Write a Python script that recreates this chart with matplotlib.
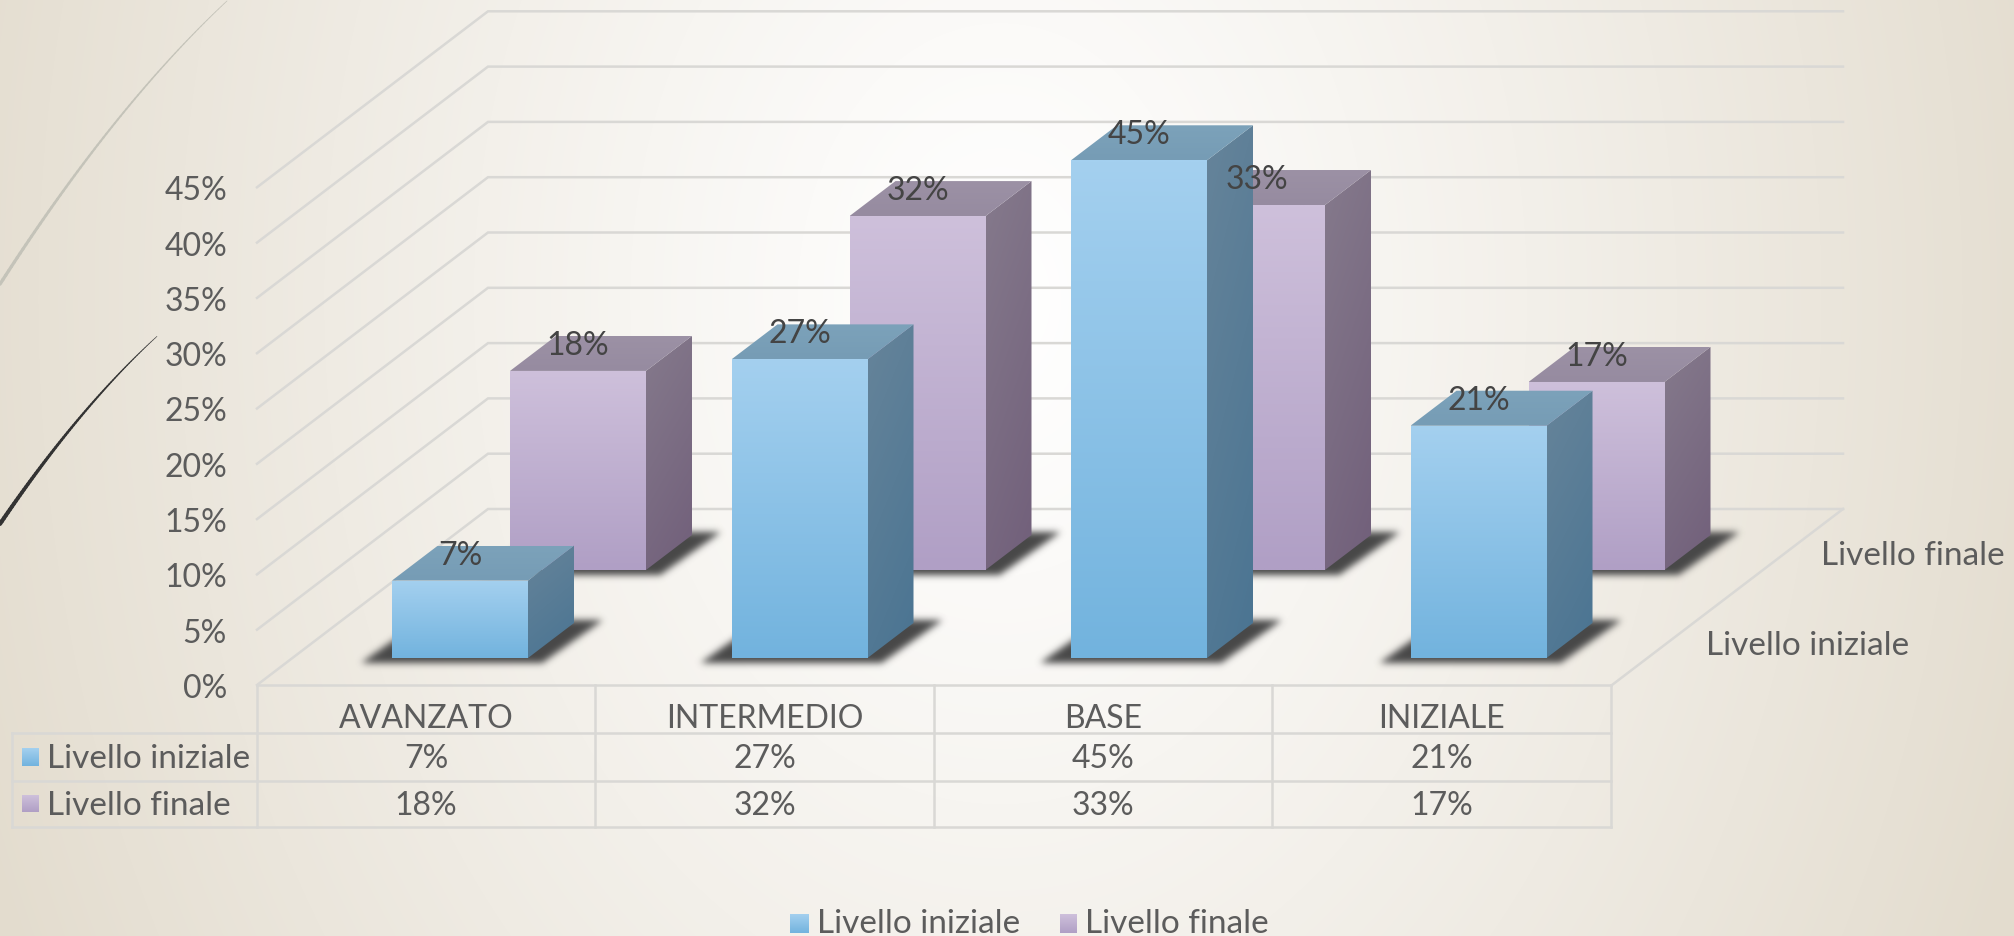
"""3D-look clustered bars (Livello iniziale / finale) with data table, drawn on a pixel canvas."""
import matplotlib
matplotlib.use('Agg')
import matplotlib.pyplot as plt
from matplotlib.collections import LineCollection
from matplotlib.patches import Polygon
from matplotlib.path import Path
import numpy as np

# ----- data -----
CATEGORIES = ['AVANZATO', 'INTERMEDIO', 'BASE', 'INIZIALE']
SERIES = ['Livello iniziale', 'Livello finale']
INIZIALE = [7, 27, 45, 21]
FINALE = [18, 32, 33, 17]
Y_TICKS = [0, 5, 10, 15, 20, 25, 30, 35, 40, 45]

# ----- colours -----
TEXT = '#5C5C5C'
LABEL = '#444444'
GRID = '#D9D8D5'
BLUE = {'front': ('#A4D0EF', '#72B3DE'), 'side': ('#66849A', '#4A7492'), 'top': ('#7CA2BA', '#769CB5')}
PURPLE = {'front': ('#CEC0DB', '#B09FC5'), 'side': ('#857A8C', '#715F7A'), 'top': ('#9C91A5', '#968BA0')}

# ----- geometry, in image pixels -----
W, H = 2014, 937
PX_PER_PCT = 11.06
X0, Y0 = 257, 686            # front left corner of the floor
X1 = 1612                    # front right corner of the floor
DX, DY = 231, -176           # floor depth
BAR_W = 136
BAR_DX, BAR_DY = 46, -35     # depth of one bar
STEP = 339.5
FRONT_X, FRONT_Y = 392, 659
REAR_X, REAR_Y = 510, 571
TABLE_X = [257, 595, 934, 1272, 1611]
TABLE_Y = [686, 734, 782, 828]

plt.rcParams['font.family'] = ['Lato', 'DejaVu Sans']
FS = 23      # numbers
FS_WORD = 24 # words

fig = plt.figure(figsize=(W / 100, H / 100), dpi=100)
ax = fig.add_axes([0, 0, 1, 1])
ax.axis('off')

zorder = [1]


def next_z():
    zorder[0] += 1
    return zorder[0]


def rgb(c):
    return np.array(matplotlib.colors.to_rgb(c))


def txt(x, y, s, size=FS, ha='center', color=TEXT):
    ax.text(x, y + 3, s, ha=ha, va='center', fontsize=size, color=color, zorder=500)


def grad_poly(pts, colors, diag=0.0):
    """Polygon with a top-to-bottom gradient (diag mixes in a left-to-right part)."""
    pts = np.array(pts, dtype=float)
    x0, x1 = pts[:, 0].min(), pts[:, 0].max()
    y0, y1 = pts[:, 1].min(), pts[:, 1].max()
    u, v = np.meshgrid(np.linspace(0, 1, 40), np.linspace(0, 1, 120))
    t = ((1 - diag) * v + diag * u)[..., None]
    img = rgb(colors[0]) * (1 - t) + rgb(colors[1]) * t
    im = ax.imshow(img, extent=[x0, x1, y1, y0], aspect='auto', zorder=next_z(),
                   interpolation='bilinear')
    im.set_clip_path(Polygon(pts, closed=True, transform=ax.transData))


def draw_shadow(x, yb):
    """Skewed footprint, blurred on a small local raster."""
    xr = x + BAR_W
    pts = [(x - 31, yb + 5), (xr + 14, yb + 5), (xr + 75, yb - 38), (x + 30, yb - 38)]
    px0, py0 = int(x - 55), int(yb - 60)
    nx, ny = BAR_W + 165, 90
    yy, xx = np.mgrid[py0:py0 + ny, px0:px0 + nx]
    inside = Path(pts).contains_points(np.column_stack([xx.ravel() + 0.5, yy.ravel() + 0.5]))
    mask = inside.reshape(ny, nx).astype(float)
    k = np.exp(-0.5 * (np.arange(-11, 12) / 3.5) ** 2)
    k /= k.sum()
    mask = np.apply_along_axis(lambda r: np.convolve(r, k, mode='same'), 0, mask)
    mask = np.apply_along_axis(lambda r: np.convolve(r, k, mode='same'), 1, mask)
    img = np.zeros((ny, nx, 4))
    img[..., :3] = rgb('#484848')
    img[..., 3] = mask
    ax.imshow(img, extent=[px0, px0 + nx, py0 + ny, py0], aspect='auto', zorder=next_z())


def draw_bar(x, yb, value, col):
    top = yb - value * PX_PER_PCT
    xr = x + BAR_W
    grad_poly([(xr, top), (xr + BAR_DX, top + BAR_DY), (xr + BAR_DX, yb + BAR_DY), (xr, yb)],
              col['side'], diag=0.25)
    grad_poly([(x, top), (xr, top), (xr + BAR_DX, top + BAR_DY), (x + BAR_DX, top + BAR_DY)],
              col['top'])
    grad_poly([(x, top), (xr, top), (xr, yb), (x, yb)], col['front'])


def bar_label(x, yb, value):
    txt(x + BAR_W / 2, yb - value * PX_PER_PCT - 29, f'{value}%', color=LABEL)


# ----- background: soft radial light -----
yy, xx = np.mgrid[0:H, 0:W]
d = np.sqrt(((xx - 1000) / 1100.0) ** 2 + ((yy - 300) / 1500.0) ** 2)
t = np.clip(d, 0, 1)[..., None] ** 1.15
bg = rgb('#FFFFFF') * (1 - t) + rgb('#E3DCCE') * t
ax.imshow(bg, extent=[0, W, H, 0], aspect='auto', zorder=0)

# ----- decorative arcs top left -----
for pts, color, w0, w1 in [
    ([(0, 286), (100, 139), (167, 68), (227, 0)], '#C4C3B9', 2.4, 0.5),
    ([(0, 525), (80, 418), (130, 364), (157, 337)], '#333333', 3.0, 0.4),
]:
    pts = np.array(pts, dtype=float)
    coef = np.polyfit(pts[:, 0], pts[:, 1], 2)
    xs = np.linspace(pts[0, 0], pts[-1, 0], 80)
    ys = np.polyval(coef, xs)
    line = np.column_stack([xs, ys])
    segs = np.stack([line[:-1], line[1:]], axis=1)
    ax.add_collection(LineCollection(segs, colors=color, linewidths=np.linspace(w0, w1, 79),
                                     capstyle='round', zorder=next_z()))

# ----- walls and floor -----
lw_grid = 1.8
for v in Y_TICKS:
    y = Y0 - v * PX_PER_PCT
    ax.plot([X0, X0 + DX, X1 + DX], [y, y + DY, y + DY], color=GRID, lw=lw_grid,
            solid_joinstyle='miter', zorder=2)
    txt(227, y, f'{v}%', ha='right')
ax.plot([X1, X1 + DX], [Y0, Y0 + DY], color=GRID, lw=lw_grid, zorder=2)

# ----- bars, back row first -----
zorder[0] = 3
for i, v in enumerate(FINALE):
    draw_shadow(REAR_X + STEP * i, REAR_Y)
for i, v in enumerate(FINALE):
    draw_bar(REAR_X + STEP * i, REAR_Y, v, PURPLE)
for i, v in enumerate(INIZIALE):
    draw_shadow(FRONT_X + STEP * i, FRONT_Y)
for i, v in enumerate(INIZIALE):
    draw_bar(FRONT_X + STEP * i, FRONT_Y, v, BLUE)
for i, v in enumerate(FINALE):
    bar_label(REAR_X + STEP * i, REAR_Y, v)
for i, v in enumerate(INIZIALE):
    bar_label(FRONT_X + STEP * i, FRONT_Y, v)

# ----- depth axis labels -----
txt(1706, 643, SERIES[0], size=FS_WORD, ha='left')
txt(1821, 553, SERIES[1], size=FS_WORD, ha='left')

# ----- data table -----
for x in TABLE_X:
    ax.plot([x, x], [TABLE_Y[0], TABLE_Y[-1]], color=GRID, lw=lw_grid, zorder=2)
ax.plot([TABLE_X[0], TABLE_X[-1]], [TABLE_Y[0]] * 2, color=GRID, lw=lw_grid, zorder=2)
for y in TABLE_Y[1:]:
    ax.plot([12, TABLE_X[-1]], [y, y], color=GRID, lw=lw_grid, zorder=2)
ax.plot([12, 12], [TABLE_Y[1], TABLE_Y[-1]], color=GRID, lw=lw_grid, zorder=2)

for i, name in enumerate(CATEGORIES):
    cx = (TABLE_X[i] + TABLE_X[i + 1]) / 2
    txt(cx, 716, name, size=FS)
    txt(cx, 756, f'{INIZIALE[i]}%')
    txt(cx, 803, f'{FINALE[i]}%')

zorder[0] = 400
for name, col, y, ym0, ym1 in [(SERIES[0], BLUE, 756, 749, 767), (SERIES[1], PURPLE, 803, 796, 813)]:
    grad_poly([(22, ym0), (39, ym0), (39, ym1), (22, ym1)], col['front'])
    txt(47, y, name, size=FS_WORD, ha='left')

# ----- legend at the bottom -----
grad_poly([(790, 915), (809, 915), (809, 934), (790, 934)], BLUE['front'])
txt(817, 921, SERIES[0], size=FS_WORD, ha='left')
grad_poly([(1060, 915), (1077, 915), (1077, 934), (1060, 934)], PURPLE['front'])
txt(1085, 921, SERIES[1], size=FS_WORD, ha='left')

ax.set_xlim(0, W)
ax.set_ylim(H, 0)
fig.savefig('out.png', dpi=100)
